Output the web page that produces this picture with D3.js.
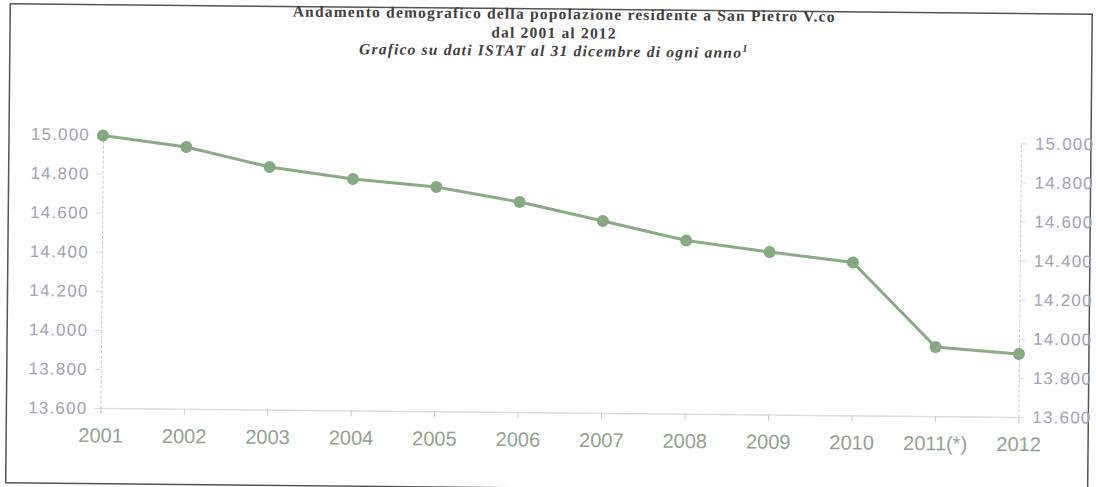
<!DOCTYPE html>
<html>
<head>
<meta charset="utf-8">
<script src="https://cdn.jsdelivr.net/npm/d3@7"></script>
<style>
  body { margin: 0; background: #fff; }
  svg { display: block; }
</style>
</head>
<body>
<div id="chart"></div>
<script>
var years = ["2001", "2002", "2003", "2004", "2005", "2006", "2007", "2008", "2009", "2010", "2011(*)", "2012"];
var population = [14995, 14940, 14842, 14785, 14748, 14675, 14582, 14486, 14432, 14382, 13954, 13922];
var yTicks = [13600, 13800, 14000, 14200, 14400, 14600, 14800, 15000];

var svgWidth = 1096;
var svgHeight = 487;

var it = d3.formatLocale({ decimal: ",", thousands: ".", grouping: [3], currency: ["€", ""] });
var fmt = it.format(",.0f");

var svg = d3.select("#chart").append("svg")
    .attr("width", svgWidth)
    .attr("height", svgHeight);

// the scan is slightly tilted
var page = svg.append("g")
    .attr("transform", "rotate(0.55, 548, 243)");

page.append("rect")
    .attr("x", 8).attr("y", 9)
    .attr("width", 1082).attr("height", 479)
    .attr("fill", "none")
    .attr("stroke", "#555")
    .attr("stroke-width", 1.5);

var title = page.append("g")
    .attr("font-family", "'Liberation Serif', 'Times New Roman', serif")
    .attr("font-weight", "bold")
    .attr("font-size", 15.5)
    .attr("letter-spacing", 1.2)
    .attr("fill", "#404040")
    .attr("text-anchor", "middle");

title.append("text").attr("x", 562).attr("y", 19)
    .text("Andamento demografico della popolazione residente a San Pietro V.co");
title.append("text").attr("x", 552).attr("y", 38)
    .text("dal 2001 al 2012");
var sub = title.append("text").attr("x", 552).attr("y", 56)
    .attr("font-style", "italic");
sub.append("tspan").text("Grafico su dati ISTAT al 31 dicembre di ogni anno");
sub.append("tspan").attr("dy", -6).attr("font-size", 10.5).text("1");

var x = d3.scalePoint()
    .domain(years)
    .range([102, 1020]);

var y = d3.scaleLinear()
    .domain([13600, 15000])
    .range([412.4, 138.8]);

var xAxis = page.append("g")
    .attr("transform", "translate(0, 412.4)")
    .call(d3.axisBottom(x).tickSize(6).tickPadding(14).tickSizeOuter(0));
xAxis.select(".domain").attr("stroke", "#ddd").attr("stroke-width", 1.5);
xAxis.selectAll(".tick line").attr("stroke", "#ccc");
xAxis.selectAll("text")
    .attr("font-family", "'Liberation Sans', Arial, sans-serif")
    .attr("font-size", 20)
    .attr("fill", "#93a293");

var leftAxis = page.append("g")
    .attr("transform", "translate(102, 0)")
    .call(d3.axisLeft(y).tickValues(yTicks).tickFormat(fmt).tickSize(6).tickPadding(7).tickSizeOuter(0));
leftAxis.select(".domain").attr("stroke", "#c8c8c8").attr("stroke-dasharray", "3,2");
leftAxis.selectAll(".tick line").attr("stroke", "#ddd");
leftAxis.selectAll("text")
    .attr("font-family", "'Liberation Sans', Arial, sans-serif")
    .attr("font-size", 17)
    .attr("letter-spacing", 1.2)
    .attr("fill", "#a3a3b3");

var rightAxis = page.append("g")
    .attr("transform", "translate(1020, 0)")
    .call(d3.axisRight(y).tickValues(yTicks).tickFormat(fmt).tickSize(6).tickPadding(8).tickSizeOuter(0));
rightAxis.select(".domain").attr("stroke", "#c8c8c8").attr("stroke-dasharray", "3,2");
rightAxis.selectAll(".tick line").attr("stroke", "#ddd");
rightAxis.selectAll("text")
    .attr("font-family", "'Liberation Sans', Arial, sans-serif")
    .attr("font-size", 17)
    .attr("letter-spacing", 1.2)
    .attr("fill", "#a3a3b3");

var line = d3.line()
    .x(function(d, i) { return x(years[i]); })
    .y(function(d) { return y(d); });

page.append("path")
    .datum(population)
    .attr("d", line)
    .attr("fill", "none")
    .attr("stroke", "#8aab86")
    .attr("stroke-width", 3);

page.selectAll(".dot")
    .data(population)
    .enter()
    .append("circle")
        .attr("class", "dot")
        .attr("cx", function(d, i) { return x(years[i]); })
        .attr("cy", function(d) { return y(d); })
        .attr("r", 6)
        .style("fill", "#86a882");
</script>
</body>
</html>
